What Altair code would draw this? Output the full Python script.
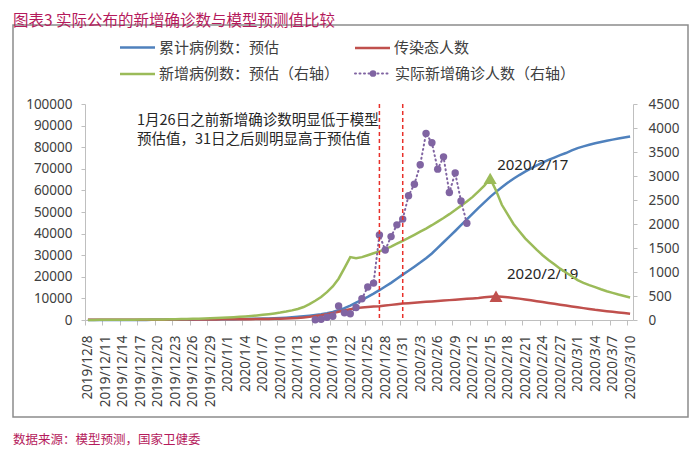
import json
import altair as alt
import pandas as pd

# ---------------- data ----------------
dates = [f"{d.year}/{d.month}/{d.day}" for d in pd.date_range("2019-12-08", "2020-03-10")]
days = list(range(len(dates)))

# 累计病例数：预估 (left axis)
cumulative_est = [
    0, 0, 0, 0, 10, 10, 20, 20, 30, 40,
    50, 60, 70, 80, 100, 110, 130, 150, 170, 190,
    220, 250, 280, 310, 350, 390, 430, 480, 530, 580,
    640, 720, 820, 950, 1100, 1300, 1500, 1750, 2000, 2300,
    2650, 3100, 3700, 4500, 5500, 6700, 8000, 9300, 10700, 12200,
    13800, 15500, 17200, 19100, 21000, 22800, 24700, 26600, 28600, 30800,
    33400, 36000, 38600, 41200, 43900, 46600, 49300, 51900, 54500, 57000,
    59300, 61500, 63500, 65400, 67100, 68700, 70200, 71600, 72900, 74100,
    75200, 76300, 77300, 78500, 79600, 80400, 81100, 81800, 82400, 83000,
    83500, 84000, 84500, 85000,
]
# 传染态人数 (left axis)
infectious = [
    100, 100, 100, 110, 110, 120, 120, 130, 130, 140,
    150, 150, 160, 170, 180, 190, 200, 210, 220, 240,
    250, 260, 280, 290, 310, 330, 350, 380, 400, 430,
    470, 510, 550, 600, 700, 820, 950, 1150, 1450, 1800,
    2200, 2700, 3200, 3800, 4400, 5000, 5500, 5800, 6000, 6200,
    6400, 6700, 7000, 7300, 7600, 7800, 8000, 8200, 8400, 8600,
    8800, 9000, 9200, 9400, 9600, 9800, 10000, 10200, 10500, 10800,
    11000, 10800, 10500, 10200, 9900, 9500, 9100, 8700, 8300, 7900,
    7500, 7100, 6700, 6300, 5900, 5500, 5100, 4700, 4400, 4100,
    3800, 3500, 3200, 2900,
]
# 新增病例数：预估 (right axis)
new_est = [
    2, 2, 3, 3, 4, 5, 5, 6, 7, 8,
    9, 10, 12, 13, 15, 17, 19, 22, 25, 28,
    32, 36, 41, 46, 52, 59, 66, 75, 84, 95,
    107, 121, 137, 155, 176, 200, 230, 270, 330, 400,
    480, 580, 700, 860, 1080, 1310, 1285, 1310, 1350, 1390,
    1430, 1475, 1530, 1590, 1650, 1710, 1775, 1840, 1905, 1975,
    2050, 2125, 2205, 2290, 2380, 2470, 2565, 2680, 2800, 2950,
    2700, 2400, 2200, 2000, 1850, 1700, 1580, 1460, 1350, 1250,
    1160, 1070, 990, 910, 830, 775, 725, 685, 640, 600,
    565, 530, 500, 470,
]
# 实际新增确诊人数 (right axis), 2020/1/16 .. 2020/2/11
actual_start = "2020/1/16"
actual_new = [4, 17, 59, 77, 290, 149, 131, 259, 444, 688, 769, 1771, 1459, 1737,
              1982, 2102, 2590, 2829, 3235, 3887, 3694, 3143, 3399, 2656, 3062, 2478, 2015]

cut_dates = ["2020/1/27", "2020/1/31"]
peak_labels = ["2020/2/17", "2020/2/19"]

legend_names = ["累计病例数：预估", "传染态人数", "新增病例数：预估（右轴）", "实际新增确诊人数（右轴）"]
title_text = "图表3 实际公布的新增确诊数与模型预测值比较"
note_lines = ["1月26日之前新增确诊数明显低于模型", "预估值，31日之后则明显高于预估值"]
source_text = "数据来源：模型预测，国家卫健委"

# ---------------- tables ----------------
model = pd.DataFrame({"day": days, "date": dates, "cum": cumulative_est,
                      "inf": infectious, "new": new_est})
s0 = dates.index(actual_start)
actual = pd.DataFrame({"day": list(range(s0, s0 + len(actual_new))), "val": actual_new})
cuts = pd.DataFrame({"day": [dates.index(d) for d in cut_dates]})
green_peak = model.loc[[model["new"].idxmax()]].assign(label=peak_labels[0])
red_peak = model.loc[[model["inf"].idxmax()]].assign(label=peak_labels[1])

# ---------------- styles ----------------
W, H = 548, 216
BLUE, RED, GREEN, PURPLE = "#4F81BD", "#C0504D", "#9BBB59", "#8064A2"
AXC, LBC = "#BFBFBF", "#404040"
NUMF, CJKF = "Noto Sans", "Noto Sans CJK SC"
TITLEC = "#B51A5C"
half = W / len(dates) / 2

x_axis = alt.Axis(values=list(range(0, len(dates), 3)),
                  labelExpr=f"{json.dumps(dates, ensure_ascii=False)}[datum.value]",
                  labelAngle=270, labelOverlap=False, labelFlush=False,
                  labelFont=NUMF, labelFontSize=13.5, labelColor=LBC, labelPadding=10,
                  tickSize=5, tickColor=AXC, domainColor=AXC, grid=False,
                  tickOffset=-half, labelOffset=half, title=None)
yl_axis = alt.Axis(values=list(range(0, 100001, 10000)), format="d", grid=False,
                   labelFont=NUMF, labelFontSize=13.5, labelColor=LBC, labelPadding=9,
                   tickSize=4, tickColor=AXC, domainColor=AXC, title=None, orient="left")
yr_axis = alt.Axis(values=list(range(0, 4501, 500)), format="d", grid=False,
                   labelFont=NUMF, labelFontSize=13.5, labelColor=LBC, labelPadding=11,
                   tickSize=4, tickColor=AXC, domainColor=AXC, title=None, orient="right")

X = alt.X("day:Q", scale=alt.Scale(domain=[-0.5, len(dates) - 0.5], nice=False, zero=False),
          axis=x_axis, title=None)
yl_scale = alt.Scale(domain=[0, 100000], nice=False)
yr_scale = alt.Scale(domain=[0, 4500], nice=False)


def YL(f):
    return alt.Y(f"{f}:Q", scale=yl_scale, axis=yl_axis, title=None)


def YR(f):
    return alt.Y(f"{f}:Q", scale=yr_scale, axis=yr_axis, title=None)


# ---------------- left-axis layer ----------------
blue = alt.Chart(model).mark_line(color=BLUE, strokeWidth=2.5).encode(x=X, y=YL("cum"))
red = alt.Chart(model).mark_line(color=RED, strokeWidth=2.5).encode(x=X, y=YL("inf"))
red_tri = alt.Chart(red_peak).mark_point(shape="triangle-up", filled=True, size=170,
                                          color=RED, opacity=1).encode(x=X, y=YL("inf"))
red_lab = alt.Chart(red_peak).mark_text(align="left", baseline="middle", dx=11, dy=-22,
                                         font=NUMF, fontSize=15, color="#262626").encode(
    x=X, y=YL("inf"), text="label:N")
left = alt.layer(blue, red, red_tri, red_lab)

# ---------------- right-axis layer ----------------
green = alt.Chart(model).mark_line(color=GREEN, strokeWidth=2.5).encode(x=X, y=YR("new"))
purple_line = alt.Chart(actual).mark_line(color=PURPLE, strokeWidth=2, strokeDash=[1, 3.5],
                                          strokeCap="round").encode(x=X, y=YR("val"))
purple_pts = alt.Chart(actual).mark_circle(color=PURPLE, size=55, opacity=1).encode(x=X, y=YR("val"))
green_tri = alt.Chart(green_peak).mark_point(shape="triangle-up", filled=True, size=170,
                                              color=GREEN, opacity=1).encode(x=X, y=YR("new"))
green_lab = alt.Chart(green_peak).mark_text(align="left", baseline="middle", dx=7, dy=-13,
                                             font=NUMF, fontSize=15, color="#262626").encode(
    x=X, y=YR("new"), text="label:N")
right = alt.layer(green, purple_line, purple_pts, green_tri, green_lab)

# ---------------- decorations ----------------
one = pd.DataFrame({"k": [0]})


def text_at(x, y, s, size, color, font=CJKF, align="left"):
    return alt.Chart(pd.DataFrame({"t": [s]})).mark_text(
        align=align, baseline="middle", fontSize=size, color=color, font=font).encode(
        x=alt.value(x), y=alt.value(y), text="t:N")


def seg(x0, x1, y, color, dash=None, width=2.5):
    kw = dict(color=color, strokeWidth=width)
    if dash:
        kw["strokeDash"] = dash
        kw["strokeCap"] = "round"
    return alt.Chart(one).mark_rule(**kw).encode(x=alt.value(x0), x2=alt.value(x1), y=alt.value(y))


frame = alt.Chart(one).mark_rect(filled=False, stroke="#8C8C8C", strokeWidth=1.5).encode(
    x=alt.value(-72), x2=alt.value(603), y=alt.value(-79), y2=alt.value(313))

cut_rules = alt.Chart(cuts).mark_rule(color="#E8302A", strokeWidth=1.5, strokeDash=[4, 3]).encode(
    x=X, y=alt.value(0), y2=alt.value(H))

deco = [frame]
# legend
leg_pos = [(35, -56.5), (270, -56), (35, -30), (270, -30.5)]
leg_colors = [BLUE, RED, GREEN, PURPLE]
for (lx, ly), name, col in zip(leg_pos, legend_names, leg_colors):
    if col == PURPLE:
        deco.append(seg(lx, lx + 36, ly, col, dash=[1, 3.5], width=2))
        deco.append(alt.Chart(one).mark_circle(color=col, size=45, opacity=1).encode(
            x=alt.value(lx + 18), y=alt.value(ly)))
        deco.append(text_at(lx + 40, ly, name, 15, LBC))
    else:
        deco.append(seg(lx, lx + 35, ly, col))
        deco.append(text_at(lx + 39, ly, name, 15, LBC))

deco.append(text_at(-72, -83.5, title_text, 15.5, TITLEC))
deco.append(text_at(-72, 336, source_text, 12.5, TITLEC))
for i, line in enumerate(note_lines):
    deco.append(text_at(52, 17 + 19 * i, line, 14.5, "#262626"))

chart = alt.layer(
    *deco[:1],
    alt.layer(left, right).resolve_scale(y="independent"),
    cut_rules,
    *deco[1:],
).properties(
    width=W, height=H,
    padding={"left": 77, "top": 96, "right": 58, "bottom": 128},
    autosize=alt.AutoSizeParams(type="none"),
    background="white",
).configure_view(strokeWidth=0)

chart.save("out.html", embed_options={"renderer": "svg", "actions": False})
